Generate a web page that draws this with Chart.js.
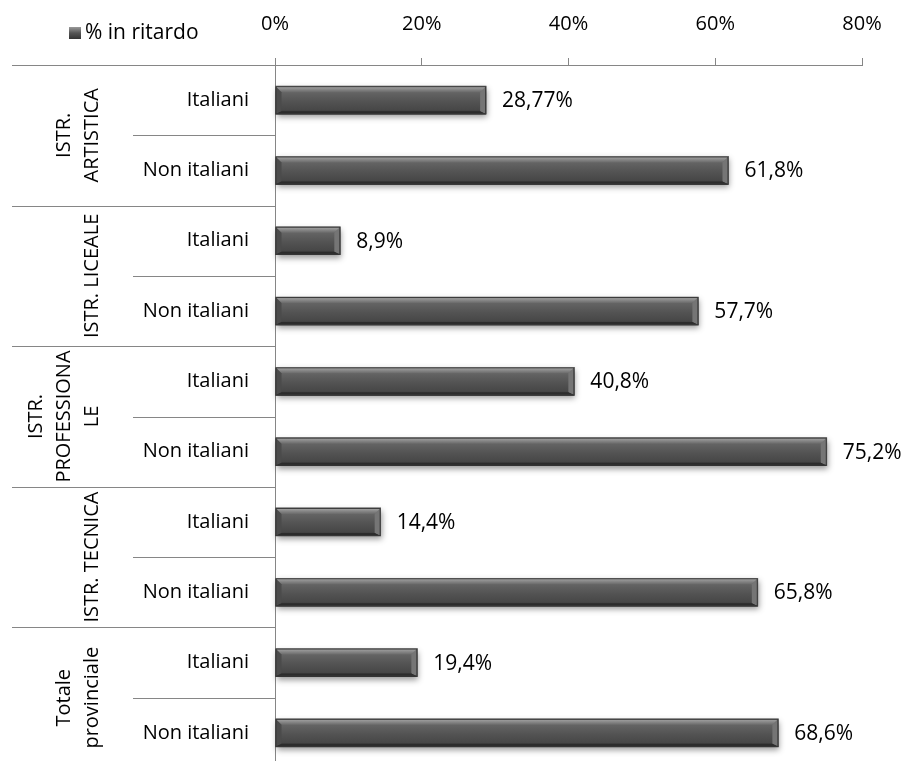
<!DOCTYPE html>
<html>
<head>
<meta charset="utf-8">
<script src="https://cdn.jsdelivr.net/npm/chart.js@4"></script>
<style>
  html, body { margin: 0; padding: 0; background: #fff; overflow: hidden; }
  #wrap { width: 906px; height: 768px; position: relative; }
</style>
</head>
<body>
<div id="wrap"><canvas id="chart"></canvas></div>
<script>
// data
const subLabels = ['Italiani', 'Non italiani', 'Italiani', 'Non italiani', 'Italiani', 'Non italiani', 'Italiani', 'Non italiani', 'Italiani', 'Non italiani'];
const values = [28.77, 61.8, 8.9, 57.7, 40.8, 75.2, 14.4, 65.8, 19.4, 68.6];
// group labels, already split in lines as in the original
const groupLines = [
    ['ISTR.', 'ARTISTICA'],
    ['ISTR. LICEALE'],
    ['ISTR.', 'PROFESSIONA', 'LE'],
    ['ISTR. TECNICA'],
    ['Totale', 'provinciale']
];
const seriesName = '% in ritardo';
const xTicks = [0, 20, 40, 60, 80];

const FONT = '"Open Sans", "Noto Sans", sans-serif';
const FSIZE = 20;
const AXIS = '#868686';

function fmt(v) {
    return String(v).replace('.', ',') + '%';
}

function barGradient(ctx, yT, yB) {
    const g = ctx.createLinearGradient(0, yT, 0, yB);
    g.addColorStop(0, '#9a9a9a');
    g.addColorStop(0.22, '#646464');
    g.addColorStop(0.55, '#535353');
    g.addColorStop(0.85, '#474747');
    g.addColorStop(1, '#303030');
    return g;
}

// draws the bevelled bars on top of the library's bar elements
const bevelPlugin = {
    id: 'bevel',
    afterDatasetsDraw(chart) {
        const ctx = chart.ctx;
        chart.getDatasetMeta(0).data.forEach((bar, i) => {
            const x0 = bar.base, x1 = bar.x, h = bar.height;
            const yT = bar.y - h / 2, yB = bar.y + h / 2;
            const b = 6;
            ctx.save();
            ctx.shadowColor = 'rgba(0,0,0,0.4)';
            ctx.shadowBlur = 6;
            ctx.shadowOffsetY = 3;
            ctx.shadowOffsetX = 1;
            ctx.fillStyle = barGradient(ctx, yT, yB);
            ctx.fillRect(x0, yT, x1 - x0, h);
            ctx.restore();

            ctx.save();
            // top bevel
            const gt = ctx.createLinearGradient(0, yT, 0, yT + b);
            gt.addColorStop(0, '#a8a8a8');
            gt.addColorStop(1, '#6a6a6a');
            ctx.fillStyle = gt;
            ctx.beginPath();
            ctx.moveTo(x0, yT); ctx.lineTo(x1, yT); ctx.lineTo(x1 - b, yT + b); ctx.lineTo(x0 + b, yT + b);
            ctx.closePath(); ctx.fill();
            // left bevel
            ctx.fillStyle = '#4b4b4b';
            ctx.beginPath();
            ctx.moveTo(x0, yT); ctx.lineTo(x0 + b, yT + b); ctx.lineTo(x0 + b, yB - 3); ctx.lineTo(x0, yB);
            ctx.closePath(); ctx.fill();
            // right bevel
            ctx.fillStyle = '#757575';
            ctx.beginPath();
            ctx.moveTo(x1, yT); ctx.lineTo(x1 - b, yT + b); ctx.lineTo(x1 - b, yB - 3); ctx.lineTo(x1, yB);
            ctx.closePath(); ctx.fill();
            // bottom edge
            ctx.fillStyle = '#2c2c2c';
            ctx.beginPath();
            ctx.moveTo(x0, yB); ctx.lineTo(x0 + b, yB - 3); ctx.lineTo(x1 - b, yB - 3); ctx.lineTo(x1, yB);
            ctx.closePath(); ctx.fill();
            ctx.strokeStyle = '#383838';
            ctx.lineWidth = 1;
            ctx.strokeRect(x0 + 0.5, yT + 0.5, x1 - x0 - 1, h - 1);
            ctx.restore();

            // value label
            ctx.save();
            ctx.fillStyle = '#000';
            ctx.font = (FSIZE + 1) + 'px ' + FONT;
            ctx.textAlign = 'left';
            ctx.textBaseline = 'middle';
            ctx.fillText(fmt(values[i]), x1 + 16, bar.y + 1);
            ctx.restore();
        });
    }
};

// category separators, group labels and legend
const sidePlugin = {
    id: 'side',
    afterDraw(chart) {
        const ctx = chart.ctx;
        const ys = chart.scales.y;
        const left = chart.chartArea.left;
        const step = ys.getPixelForValue(1) - ys.getPixelForValue(0);
        ctx.save();
        ctx.strokeStyle = AXIS;
        ctx.lineWidth = 1;
        for (let i = 0; i <= subLabels.length; i++) {
            const y = Math.round(ys.getPixelForValue(i) - step / 2) + 0.5;
            const x0 = (i % 2 === 0) ? 12 : 133;
            ctx.beginPath();
            ctx.moveTo(x0, y);
            ctx.lineTo(left, y);
            ctx.stroke();
        }
        // group labels, rotated
        ctx.fillStyle = '#000';
        ctx.font = FSIZE + 'px ' + FONT;
        ctx.textAlign = 'center';
        ctx.textBaseline = 'middle';
        groupLines.forEach((lines, g) => {
            const cy = (ys.getPixelForValue(g * 2) + ys.getPixelForValue(g * 2 + 1)) / 2;
            lines.forEach((txt, k) => {
                const cx = 92 - (lines.length - 1 - k) * 28;
                ctx.save();
                ctx.translate(cx, cy);
                ctx.rotate(-Math.PI / 2);
                ctx.fillText(txt, 0, 0);
                ctx.restore();
            });
        });
        // legend
        const lg = ctx.createLinearGradient(0, 27, 0, 39);
        lg.addColorStop(0, '#9a9a9a');
        lg.addColorStop(0.5, '#555');
        lg.addColorStop(1, '#333');
        ctx.fillStyle = lg;
        ctx.fillRect(69, 27, 12, 12);
        ctx.fillStyle = '#000';
        ctx.textAlign = 'left';
        ctx.font = (FSIZE + 1) + 'px ' + FONT;
        ctx.fillText(seriesName, 85, 33);
        ctx.restore();
    }
};

new Chart(document.getElementById('chart'), {
    type: 'bar',
    data: {
        labels: subLabels,
        datasets: [{
            label: seriesName,
            data: values,
            backgroundColor: '#555555',
            borderWidth: 0,
            barThickness: 28
        }]
    },
    options: {
        indexAxis: 'y',
        responsive: true,
        maintainAspectRatio: false,
        animation: false,
        layout: { padding: { left: 12, right: 44, top: 0, bottom: 0 } },
        plugins: {
            legend: { display: false },
            tooltip: { enabled: false }
        },
        scales: {
            x: {
                position: 'top',
                min: 0,
                max: 80,
                afterBuildTicks: s => { s.ticks = xTicks.map(v => ({ value: v })); },
                afterFit: s => { s.height = 65; s.paddingLeft = 0; s.paddingRight = 0; },
                ticks: {
                    callback: v => v + '%',
                    color: '#000',
                    font: { family: FONT, size: FSIZE },
                    padding: 22,
                    maxRotation: 0
                },
                grid: {
                    drawOnChartArea: false,
                    drawTicks: true,
                    tickLength: 7,
                    color: AXIS
                },
                border: { display: true, color: AXIS }
            },
            y: {
                afterFit: s => { s.width = 263; s.paddingTop = 0; s.paddingBottom = 0; },
                ticks: {
                    color: '#000',
                    font: { family: FONT, size: FSIZE },
                    padding: 26
                },
                grid: { display: false, drawTicks: false },
                border: { display: true, color: AXIS }
            }
        }
    },
    plugins: [bevelPlugin, sidePlugin]
});
</script>
</body>
</html>
